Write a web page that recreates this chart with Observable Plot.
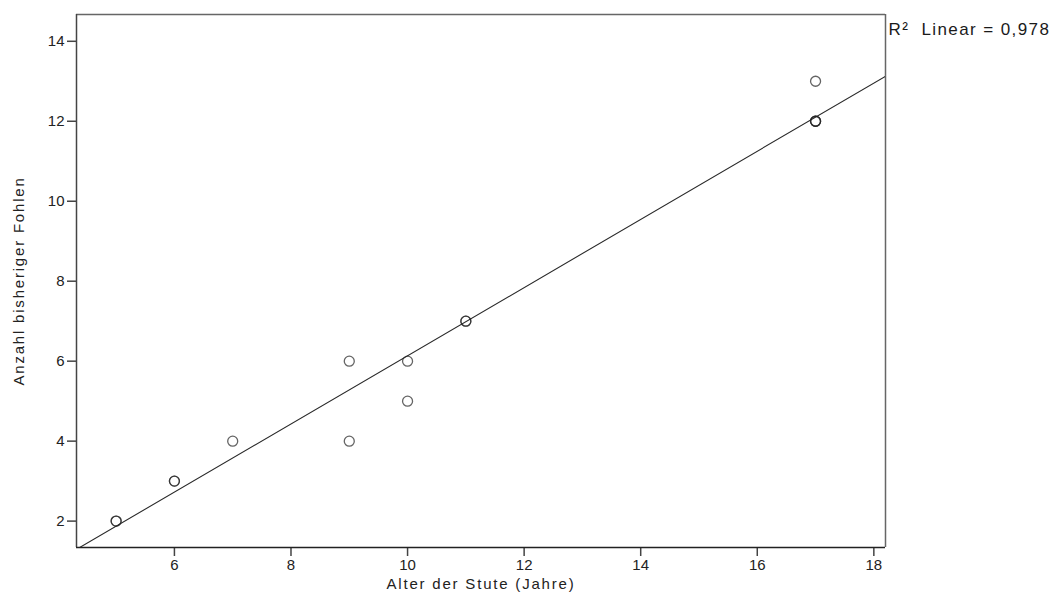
<!DOCTYPE html>
<html>
<head>
<meta charset="utf-8">
<script src="https://cdn.jsdelivr.net/npm/d3@7"></script>
<script src="https://cdn.jsdelivr.net/npm/@observablehq/plot@0.6"></script>
<style>
  html, body { margin: 0; padding: 0; background: #fff; }
  #chart svg { display: block; }
</style>
</head>
<body>
<div id="chart"></div>
<script>
// Alter der Stute (Jahre) und Anzahl bisheriger Fohlen, eine Zeile je Stute
const alter  = [5, 5, 6, 6, 7, 9, 9, 10, 10, 11, 11, 17, 17, 17, 17];
const fohlen = [2, 2, 3, 3, 4, 6, 4, 6, 5, 7, 7, 13, 12, 12, 12];

const xTicks = [6, 8, 10, 12, 14, 16, 18];
const yTicks = [2, 4, 6, 8, 10, 12, 14];
const xDomain = [4.32, 18.2];
const yDomain = [1.34, 14.67];

const rows = alter.map((a, i) => ({alter: a, fohlen: fohlen[i]}));

// Kleinste-Quadrate-Gerade und Bestimmtheitsmaß
const mx = d3.mean(alter), my = d3.mean(fohlen);
const sxy = d3.sum(rows, d => (d.alter - mx) * (d.fohlen - my));
const sxx = d3.sum(alter, a => (a - mx) ** 2);
const syy = d3.sum(fohlen, f => (f - my) ** 2);
const slope = sxy / sxx;
const intercept = my - slope * mx;
const r2 = (sxy * sxy) / (sxx * syy);
const fitLine = xDomain.map(x => ({alter: x, fohlen: intercept + slope * x}));
const r2Label = "R²  Linear = " + d3.format(".3f")(r2).replace(".", ",");

const font = "'Liberation Sans', Arial, Helvetica, sans-serif";

const chart = Plot.plot({
  width: 1055,
  height: 612,
  marginLeft: 76,
  marginRight: 170,
  marginTop: 14,
  marginBottom: 65,
  style: {fontFamily: font, fontSize: "15px", color: "#222", background: "#fff"},
  x: {domain: xDomain, ticks: xTicks},
  y: {domain: yDomain, ticks: yTicks},
  marks: [
    // Rahmen: oben und rechts etwas heller
    Plot.ruleY([yDomain[1]], {stroke: "#666", strokeWidth: 1.5}),
    Plot.ruleX([xDomain[1]], {stroke: "#666", strokeWidth: 1.5}),
    Plot.axisX({
      ticks: xTicks, tickSize: 9, tickPadding: 3, stroke: "#444", strokeWidth: 1.5,
      fontSize: 15, label: "Alter der Stute (Jahre)", labelAnchor: "center",
      labelOffset: 41, labelArrow: "none"
    }),
    Plot.axisY({
      ticks: yTicks, tickSize: 9, tickPadding: 3, stroke: "#444", strokeWidth: 1.5,
      fontSize: 15, label: "Anzahl bisheriger Fohlen", labelAnchor: "center",
      labelOffset: 63, labelArrow: "none"
    }),
    Plot.ruleX([xDomain[0]], {stroke: "#444", strokeWidth: 1.5}),
    Plot.ruleY([yDomain[0]], {stroke: "#222", strokeWidth: 1.5}),
    Plot.line(fitLine, {x: "alter", y: "fohlen", stroke: "#2a2a2a", strokeWidth: 1.1, clip: true}),
    Plot.dot(rows, {
      x: "alter", y: "fohlen", r: 5, fill: "none",
      stroke: "#222", strokeOpacity: 0.7, strokeWidth: 1.3
    }),
    Plot.text([r2Label], {
      frameAnchor: "top-right", dx: 3, dy: 15, textAnchor: "start", lineAnchor: "middle",
      fontSize: 17, fill: "#1a1a1a"
    })
  ]
});

// Längere Beschriftungen etwas gesperrt setzen
d3.select(chart).selectAll("text")
  .filter(function() { return this.textContent.length > 3; })
  .style("letter-spacing", function() {
    return this.textContent.startsWith("R²") ? "1.4px" : "1.8px";
  });

document.getElementById("chart").appendChild(chart);
</script>
</body>
</html>
